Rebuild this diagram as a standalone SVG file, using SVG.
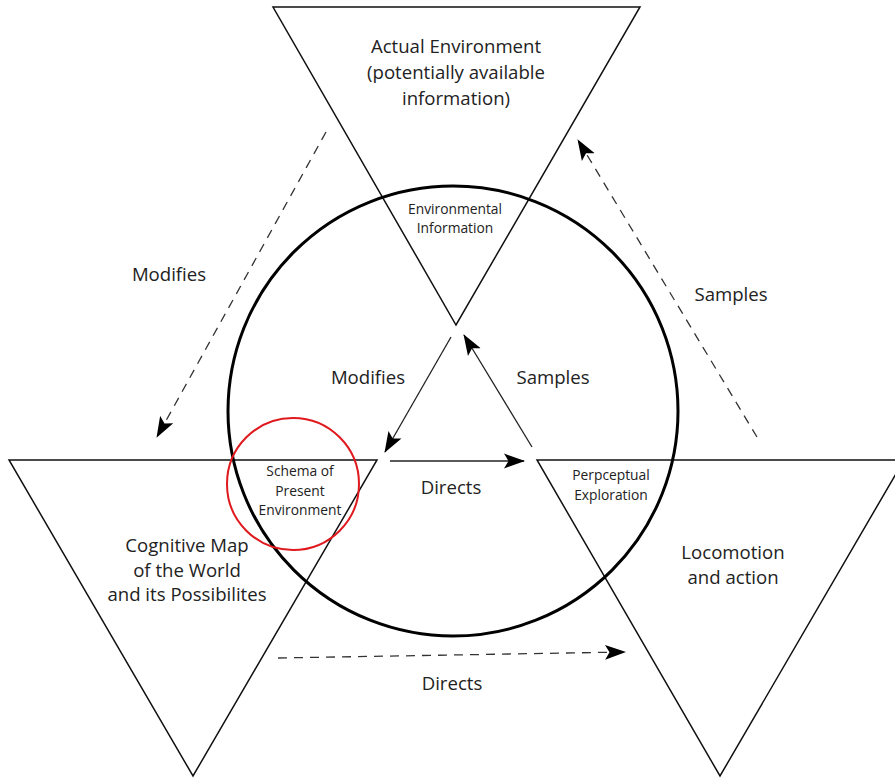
<svg xmlns="http://www.w3.org/2000/svg" width="895" height="780" viewBox="0 0 895 780">
<defs>
<style>
.tri{fill:none;stroke:#111;stroke-width:1.5;stroke-linejoin:miter}
.big{font-family:"Open Sans","Liberation Sans",sans-serif;font-size:18.6px;fill:#222;text-anchor:middle}
.sm{font-family:"Open Sans","Liberation Sans",sans-serif;font-size:13.8px;fill:#222;text-anchor:middle}
.solid{fill:none;stroke:#222;stroke-width:1.3;marker-end:url(#ah)}
.dash{fill:none;stroke:#333;stroke-width:1.3;stroke-dasharray:9 7;marker-end:url(#ah)}
</style>
<marker id="ah" markerUnits="userSpaceOnUse" markerWidth="22" markerHeight="18" viewBox="0 0 22 18" refX="20" refY="9" orient="auto">
<path d="M0,1.5 L21,9 L0,16.5 L4.5,9 Z" fill="#000"/>
</marker>
</defs>
<rect width="895" height="780" fill="#fff"/>
<g id="actual-environment">
<polygon class="tri" points="273,7 640,7 456,325"/>
<text class="big" x="456" y="53">Actual Environment</text>
<text class="big" x="456" y="79">(potentially available</text>
<text class="big" x="456" y="105">information)</text>
<text class="sm" x="455" y="214">Environmental</text>
<text class="sm" x="455" y="233">Information</text>
</g>
<g id="cognitive-map">
<polygon class="tri" points="9,460 377,460 193,776"/>
<text class="big" x="187" y="552">Cognitive Map</text>
<text class="big" x="187" y="577">of the World</text>
<text class="big" x="187" y="601">and its Possibilites</text>
<text class="sm" x="300" y="476">Schema of</text>
<text class="sm" x="300" y="496">Present</text>
<text class="sm" x="300" y="515">Environment</text>
</g>
<g id="locomotion">
<polygon class="tri" points="537,460 904,460 720,776"/>
<text class="big" x="733" y="559">Locomotion</text>
<text class="big" x="733" y="584">and action</text>
<text class="sm" x="611" y="480">Perpceptual</text>
<text class="sm" x="611" y="500">Exploration</text>
</g>
<g id="perceptual-cycle">
<circle cx="453" cy="411" r="225" fill="none" stroke="#000" stroke-width="3"/>
</g>
<g id="schema-highlight">
<circle cx="293" cy="484" r="66" fill="none" stroke="#e0191e" stroke-width="2"/>
</g>
<g id="connectors">
<path class="solid" d="M451,337 L385,452"/>
<path class="solid" d="M532,447 L464,335"/>
<path class="solid" d="M390,461 L524,461"/>
<path class="dash" d="M326,132 L157,437"/>
<path class="dash" d="M757,437 L578,140"/>
<path class="dash" d="M278,658 L625,652"/>
<text class="big" x="169" y="281">Modifies</text>
<text class="big" x="731" y="301">Samples</text>
<text class="big" x="368" y="384">Modifies</text>
<text class="big" x="553" y="384">Samples</text>
<text class="big" x="451" y="494">Directs</text>
<text class="big" x="452" y="690">Directs</text>
</g>
</svg>
